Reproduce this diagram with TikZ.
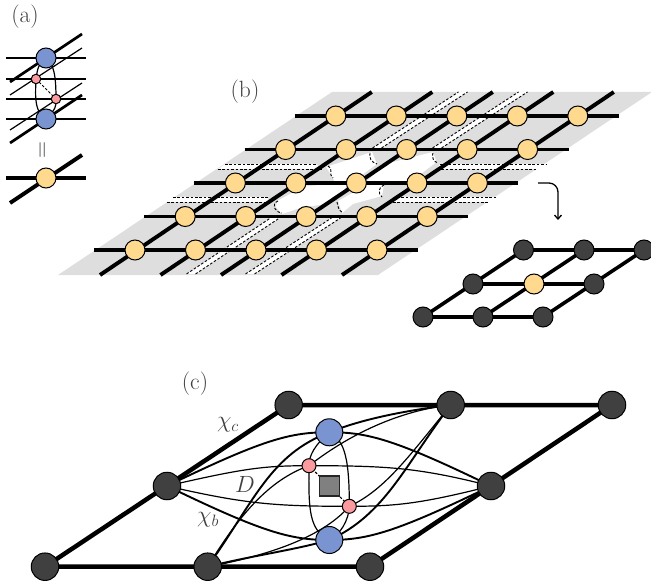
\RequirePackage{fix-cm}
\documentclass[tikz,border=0pt]{standalone}
\usetikzlibrary{calc,arrows.meta}
\definecolor{plate}{HTML}{DEDEDE}
\definecolor{yel}{HTML}{FFD98E}
\definecolor{blu}{HTML}{7A93D1}
\definecolor{pnk}{HTML}{FA9A9F}
\definecolor{drk}{HTML}{404040}
\definecolor{lab}{HTML}{404040}
\tikzset{
 thickbond/.style={line width=3.9pt,black},
 medbond/.style={line width=2.7pt,black},
 thinbond/.style={line width=1.2pt,black},
 strong/.style={line width=1.9pt,black},
 cdash/.style={line width=0.9pt,black,dash pattern=on 2.6pt off 1.8pt},
 site/.style={circle,draw=black,line width=1pt,inner sep=0pt,minimum size=#1},
 yelsite/.style={site=20pt,fill=yel},
 drksite/.style={site=#1,fill=drk},
 blusite/.style={site=#1,fill=blu},
 pnksite/.style={site=#1,fill=pnk},
 lbl/.style={text=lab,font=\fontsize{23.5}{24}\selectfont,inner sep=0pt}
}
\begin{document}
\begin{tikzpicture}[x=1pt,y=-1pt]
\useasboundingbox (0,0) rectangle (651,583);
% ----- labels
\node[lbl] (la) at (25,17) {(a)};
\node[lbl] (lb) at (245,92) {(b)};
\node[lbl] (lc) at (195,384) {(c)};
% ----- (a)
\coordinate (bt) at (46,58); \coordinate (bb) at (46,119);
\coordinate (p1) at (36,79); \coordinate (p2) at (56,99);
\foreach \yy/\st in {58/medbond,79/thinbond,99/thinbond,119/medbond}
  \draw[\st] (6,\yy) -- (86,\yy);
\draw[medbond] (10,82) -- (82,34);
\draw[thinbond] (10,95) -- (82,48);
\draw[thinbond] (10,130) -- (82,83);
\draw[medbond] (10,143) -- (82,95);
\draw[thinbond] (bt) .. controls (38,66) .. (p1);
\draw[thinbond] (p1) .. controls (35,100) and (35,112) .. (bb);
\draw[thinbond] (bt) .. controls (54,64) and (56,76) .. (p2);
\draw[thinbond] (p2) .. controls (56,108) .. (bb);
\draw[cdash] (p1) -- (p2);
\node[blusite=20pt] (abt) at (bt) {};
\node[blusite=20pt] (abb) at (bb) {};
\node[pnksite=9.5pt] (ap1) at (p1) {};
\node[pnksite=9.5pt] (ap2) at (p2) {};
\node[lbl,rotate=90] (aeq) at (44,150) {=};
\draw[thickbond] (6,178) -- (86,178);
\draw[thickbond] (10,203) -- (82,155);
\node[yelsite] (ay) at (46,178) {};
% ----- (b) plate
\fill[plate] (58,275) -- (332,92) -- (652,92) -- (378,275) -- cycle;
% white strips
\def\hstrip#1#2#3#4#5#6{%
  \fill[white] (#2,#1) -- (#3,#1) -- (#6,#4) -- (#5,#4) -- cycle;
  \draw[cdash] (#2,#1) -- (#3,#1);
  \draw[cdash] (#5,#4) -- (#6,#4);}
\hstrip{164}{225}{316}{169}{218}{322}
\hstrip{164}{440}{547}{169}{437}{538}
\hstrip{197}{173}{268}{202}{167}{268}
\hstrip{197}{397}{497}{202}{393}{488}
\def\dstrip#1#2#3#4{%
  \fill[white] (#1-4.5,#2) -- (#3-4.5,#4) -- (#3+4.5,#4) -- (#1+4.5,#2) -- cycle;
  \draw[cdash] (#1-4.5,#2) -- (#3-4.5,#4);
  \draw[cdash] (#1+4.5,#2) -- (#3+4.5,#4);}
\dstrip{191}{274}{275}{218}
\dstrip{250}{274}{336}{218}
\dstrip{377}{148}{463}{92}
\dstrip{437}{148}{523}{92}
% central white regions
\fill[white] (277,201) -- (305,186) -- (350,183) -- (332,203) -- (300,208) -- (282,214) -- (276,207) -- cycle;
\fill[white] (338,201) -- (367,185) -- (384,184) -- (382,196) -- (353,204) -- (342,213) -- cycle;
\fill[white] (326,167) -- (372,152) -- (377,164) -- (352,182) -- (335,182) -- (330,173) -- cycle;
\fill[white] (385,164) -- (433,152) -- (436,160) -- (434,164) -- (410,182) -- (366,182) -- cycle;
\draw[cdash] (278,201) .. controls (271,204) and (274,212) .. (282,213);
\draw[cdash] (337,202) .. controls (338,206) and (338,210) .. (343,213);
\draw[cdash] (384,185) .. controls (378,187) and (378,194) .. (382,197);
\draw[cdash] (328,166) .. controls (334,168) and (328,175) .. (333,178);
\draw[cdash] (370,153) .. controls (369,158) and (371,162) .. (377,164);
\draw[cdash] (433,153) .. controls (431,157) and (434,162) .. (438,163);
% lattice
\foreach \j in {0,...,4} \foreach \i in {0,...,4}
  \coordinate (s\i\j) at ({135+60.5*\i+50.2*\j},{250-33.5*\j});
\foreach \j in {0,...,4}
  \draw[thickbond] ($(s0\j)+(-41,0)$) -- ($(s4\j)+(41,0)$);
\foreach \i in {0,...,4}
  \draw[thickbond] ($(s\i0)+(-35,25)$) -- ($(s\i4)+(36,-24)$);
\foreach \j in {0,...,4} \foreach \i in {0,...,4}
  \node[yelsite] (n\i\j) at (s\i\j) {};
% arrow
\coordinate (ars) at (538,183); \coordinate (are) at (558,220);
\draw[line width=1.3pt,-{Straight Barb[length=4pt,width=7pt]},rounded corners=9pt] (ars) -- (558,183) -- (are);
% inset
\coordinate (i00) at (423,317); \coordinate (i10) at (483,317); \coordinate (i20) at (543,317);
\coordinate (i01) at (473,284); \coordinate (i11) at (534,284); \coordinate (i21) at (594,284);
\coordinate (i02) at (523.5,250); \coordinate (i12) at (584,250); \coordinate (i22) at (644,250);
\draw[line width=3.6pt] (i00) -- (i20) (i01) -- (i21) (i02) -- (i22)
  (i00) -- (i02) (i10) -- (i12) (i20) -- (i22);
\foreach \n in {i00,i10,i20,i01,i21,i02,i12,i22}
  \node[drksite=20pt] (m\n) at (\n) {};
\node[yelsite] (mi11) at (i11) {};
% ----- (c)
\coordinate (A) at (45,566.7); \coordinate (B) at (207.7,566.7); \coordinate (C) at (370,566.7);
\coordinate (L) at (167,486); \coordinate (R) at (491,486);
\coordinate (D) at (288.7,405); \coordinate (T) at (450.7,405); \coordinate (E) at (612,405);
\coordinate (BT) at (329.3,432.3); \coordinate (BB) at (329.3,540);
\coordinate (P1) at (309,465.7); \coordinate (P2) at (349.3,506.3);
\coordinate (Q) at (329.3,486);
\draw[line width=4.5pt] (A) -- (C) (D) -- (E) (A) -- (D) (C) -- (E);
\draw[strong] (L) .. controls (262,440) and (290,432) .. (BT);
\draw[strong] (L) .. controls (262,532) and (290,540) .. (BB);
\draw[strong] (R) .. controls (396,440) and (368,432) .. (BT);
\draw[strong] (R) .. controls (396,532) and (368,540) .. (BB);
\draw[thinbond] (L) .. controls (245,468) and (265,465.7) .. (P1);
\draw[thinbond] (L) .. controls (245,504) and (275,506.3) .. (P2);
\draw[thinbond] (R) .. controls (420,468) and (390,465.7) .. (P1);
\draw[thinbond] (R) .. controls (420,504) and (395,506.3) .. (P2);
\draw[strong] (B) .. controls (255,500) and (270,455) .. (BT);
\draw[thinbond] (B) .. controls (245,505) and (275,478) .. (P1);
\draw[strong] (B) .. controls (255,555) and (295,550) .. (BB);
\draw[thinbond] (B) .. controls (260,557) and (320,540) .. (P2);
\draw[strong] (T) .. controls (410,410) and (365,418) .. (BT);
\draw[thinbond] (T) .. controls (405,410) and (355,430) .. (P1);
\draw[strong] (T) .. controls (405,465) and (385,515) .. (BB);
\draw[thinbond] (T) .. controls (410,455) and (385,490) .. (P2);
\draw[thinbond] (BT) .. controls (315,445) and (309,455) .. (P1);
\draw[thinbond] (P1) .. controls (308.5,510) and (309,530) .. (BB);
\draw[thinbond] (BT) .. controls (342,440) and (349.5,450) .. (P2);
\draw[thinbond] (P2) .. controls (349,520) and (340,535) .. (BB);
\draw[cdash,line width=1.1pt] (P1) -- (P2);
\node[draw=black!85,line width=1.4pt,fill=black!50,minimum size=20pt,inner sep=0pt] (sq) at (Q) {};
\foreach \n in {A,B,C,L,R,D,T,E}
  \node[drksite=27.5pt] (c\n) at (\n) {};
\node[blusite=27pt] (cBT) at (BT) {};
\node[blusite=27pt] (cBB) at (BB) {};
\node[pnksite=14pt] (cP1) at (P1) {};
\node[pnksite=14pt] (cP2) at (P2) {};
\node[lbl] (chic) at (228,425) {$\chi_c$};
\node[lbl] (dd) at (245,484) {$D$};
\node[lbl] (chib) at (208,520) {$\chi_b$};
\end{tikzpicture}
\end{document}
